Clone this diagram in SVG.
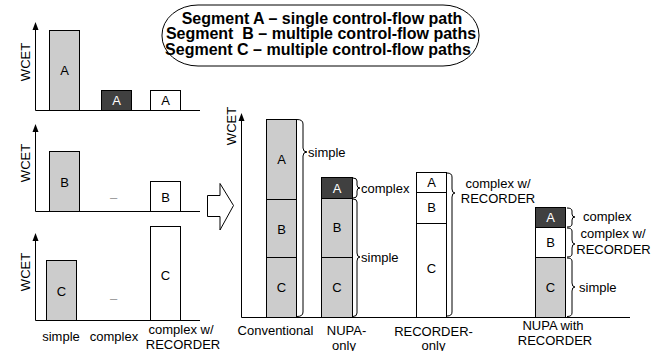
<svg xmlns="http://www.w3.org/2000/svg" width="662" height="351" viewBox="0 0 662 351">
  <style>
    text { font-family: "Liberation Sans", Arial, sans-serif; font-size: 13px; fill: #000; }
    .title { font-size: 16px; font-weight: bold; text-anchor: middle; white-space: pre; }
    .mid { text-anchor: middle; }
    .inv { fill: #fff; }
    .dash { fill: #999; }
    .axis { stroke: #000; stroke-width: 1; fill: none; }
    .head { fill: #000; }
    .simple { fill: #cccccc; stroke: #000; stroke-width: 1; }
    .complex { fill: #404040; stroke: #000; stroke-width: 1; }
    .rec { fill: #fff; stroke: #000; stroke-width: 1; }
    .brace { fill: none; stroke: #000; stroke-width: 1; }
  </style>
  <defs>
    <!-- upward axis arrowhead, tip at the origin -->
    <path id="axisHead" d="M0,0 L3,8 L-3,8 Z"/>
  </defs>
  <rect width="662" height="351" fill="#fff"/>

  <!-- legend -->
  <g id="legend">
    <rect x="162" y="5" width="317" height="61" rx="36" ry="30" fill="#fff" stroke="#000" stroke-width="1"/>
    <text class="title" x="322" y="23.5">Segment A – single control-flow path</text>
    <text class="title" x="321" y="39">Segment  B – multiple control-flow paths</text>
    <text class="title" x="318" y="55">Segment C – multiple control-flow paths</text>
  </g>

  <!-- segment A per analysis -->
  <g id="chart-a">
    <line class="axis" x1="35.5" y1="110.5" x2="35.5" y2="26"/>
    <use href="#axisHead" class="head" x="35.5" y="22"/>
    <line class="axis" x1="35.5" y1="110.5" x2="200" y2="110.5"/>
    <text transform="translate(30,62) rotate(-90)" class="mid">WCET</text>
    <rect class="simple" x="49.5" y="30.5" width="30" height="80"/>
    <text class="mid" x="64.5" y="75">A</text>
    <rect class="complex" x="101.5" y="90.5" width="30" height="20"/>
    <text class="mid inv" x="116.5" y="105">A</text>
    <rect class="rec" x="150.5" y="90.5" width="30" height="20"/>
    <text class="mid" x="165.5" y="105">A</text>
  </g>

  <!-- segment B per analysis -->
  <g id="chart-b">
    <line class="axis" x1="35.5" y1="211.5" x2="35.5" y2="128"/>
    <use href="#axisHead" class="head" x="35.5" y="124"/>
    <line class="axis" x1="35.5" y1="211.5" x2="200" y2="211.5"/>
    <text transform="translate(30,163) rotate(-90)" class="mid">WCET</text>
    <rect class="simple" x="49.5" y="151.5" width="30" height="60"/>
    <text class="mid" x="64.5" y="186.5">B</text>
    <text class="mid dash" x="113.5" y="202">–</text>
    <rect class="rec" x="150.5" y="181.5" width="30" height="30"/>
    <text class="mid" x="165.5" y="201.5">B</text>
  </g>

  <!-- segment C per analysis -->
  <g id="chart-c">
    <line class="axis" x1="35.5" y1="320.5" x2="35.5" y2="237"/>
    <use href="#axisHead" class="head" x="35.5" y="233"/>
    <line class="axis" x1="35.5" y1="320.5" x2="200" y2="320.5"/>
    <text transform="translate(30,272) rotate(-90)" class="mid">WCET</text>
    <rect class="simple" x="46.5" y="260.5" width="30" height="60"/>
    <text class="mid" x="61.5" y="296">C</text>
    <text class="mid dash" x="113.5" y="303">–</text>
    <rect class="rec" x="150.5" y="226.5" width="30" height="94"/>
    <text class="mid" x="165.5" y="280">C</text>
    <text class="mid" x="61" y="341">simple</text>
    <text class="mid" x="114" y="341">complex</text>
    <text class="mid" x="181" y="334">complex w/</text>
    <text class="mid" x="183" y="349">RECORDER</text>
  </g>

  <!-- combined WCET axes -->
  <g id="combined-axes">
    <line class="axis" x1="241.5" y1="317.5" x2="241.5" y2="117"/>
    <use href="#axisHead" class="head" x="241.5" y="113"/>
    <line class="axis" x1="241.5" y1="317.5" x2="630" y2="317.5"/>
    <text transform="translate(236,126) rotate(-90)" class="mid">WCET</text>
  </g>

  <g id="bar-conventional">
    <rect class="simple" x="266.5" y="119.5" width="30" height="80"/>
    <rect class="simple" x="266.5" y="199.5" width="30" height="58"/>
    <rect class="simple" x="266.5" y="257.5" width="30" height="60"/>
    <text class="mid" x="281.5" y="164">A</text>
    <text class="mid" x="281.5" y="234">B</text>
    <text class="mid" x="281.5" y="291.5">C</text>
    <text class="mid" x="275.5" y="334.5">Conventional</text>
  </g>

  <g id="bar-nupa-only">
    <rect class="complex" x="321.5" y="177.5" width="31" height="21"/>
    <rect class="simple" x="321.5" y="198.5" width="31" height="59"/>
    <rect class="simple" x="321.5" y="257.5" width="31" height="60"/>
    <text class="mid inv" x="337" y="192.5">A</text>
    <text class="mid" x="337" y="231.5">B</text>
    <text class="mid" x="337" y="291.5">C</text>
    <text class="mid" x="346.5" y="334.5">NUPA-</text>
    <text class="mid" x="344" y="349.5">only</text>
  </g>

  <g id="bar-recorder-only">
    <rect class="rec" x="416.5" y="172.5" width="30" height="20"/>
    <rect class="rec" x="416.5" y="192.5" width="30" height="31"/>
    <rect class="rec" x="416.5" y="223.5" width="30" height="94"/>
    <text class="mid" x="431.5" y="187">A</text>
    <text class="mid" x="431.5" y="212">B</text>
    <text class="mid" x="431.5" y="273">C</text>
    <text class="mid" x="433.5" y="335.5">RECORDER-</text>
    <text class="mid" x="433.5" y="349.5">only</text>
  </g>

  <g id="bar-nupa-recorder">
    <rect class="complex" x="535.5" y="207.5" width="30" height="20"/>
    <rect class="rec" x="535.5" y="227.5" width="30" height="30"/>
    <rect class="simple" x="535.5" y="257.5" width="30" height="60"/>
    <text class="mid inv" x="550.5" y="222">A</text>
    <text class="mid" x="550.5" y="247">B</text>
    <text class="mid" x="550.5" y="291.5">C</text>
    <text class="mid" x="553" y="329.5">NUPA with</text>
    <text class="mid" x="555" y="345">RECORDER</text>
  </g>

  <!-- combining arrow and analysis braces -->
  <g id="connectors">
    <path d="M207.5,195.5 H220 V183.5 L233.5,205.5 L220,230 V216.5 H207.5 Z" fill="#fff" stroke="#000" stroke-width="1"/>
    <!-- brace: start, curl, tip, curl, end -->
    <path class="brace" d="M297,119.5 Q303,119.5 303,124 V148 Q303,152 307,152 Q303,152 303,156 V312 Q303,316.5 297,316.5"/>
    <path class="brace" d="M353,178 Q357,178 357,181 V185 Q357,188 360,188 Q357,188 357,191 V195 Q357,198 353,198"/>
    <path class="brace" d="M353,199 Q357,199 357,202 V253 Q357,257 360,257 Q357,257 357,261 V313 Q357,316.5 353,316.5"/>
    <path class="brace" d="M447,173 Q452,173 452,177 V189 Q452,193 455,193 Q452,193 452,197 V312 Q452,316 447,316"/>
    <path class="brace" d="M567,208 Q572,208 572,211 V214 Q572,217 575,217 Q572,217 572,220 V224 Q572,227 567,227"/>
    <path class="brace" d="M567,228 Q572,228 572,231 V240 Q572,244 575,244 Q572,244 572,248 V254 Q572,257 567,257"/>
    <path class="brace" d="M567,258 Q572,258 572,261 V283 Q572,287 575,287 Q572,287 572,291 V313 Q572,316.5 567,316.5"/>
    <text x="308" y="156.5">simple</text>
    <text x="361" y="192.5">complex</text>
    <text x="361" y="261.5">simple</text>
    <text class="mid" x="498" y="187.5">complex w/</text>
    <text class="mid" x="498" y="202.5">RECORDER</text>
    <text x="583" y="221">complex</text>
    <text class="mid" x="613" y="237.5">complex w/</text>
    <text class="mid" x="613.5" y="253.5">RECORDER</text>
    <text x="579" y="291.5">simple</text>
  </g>
</svg>
